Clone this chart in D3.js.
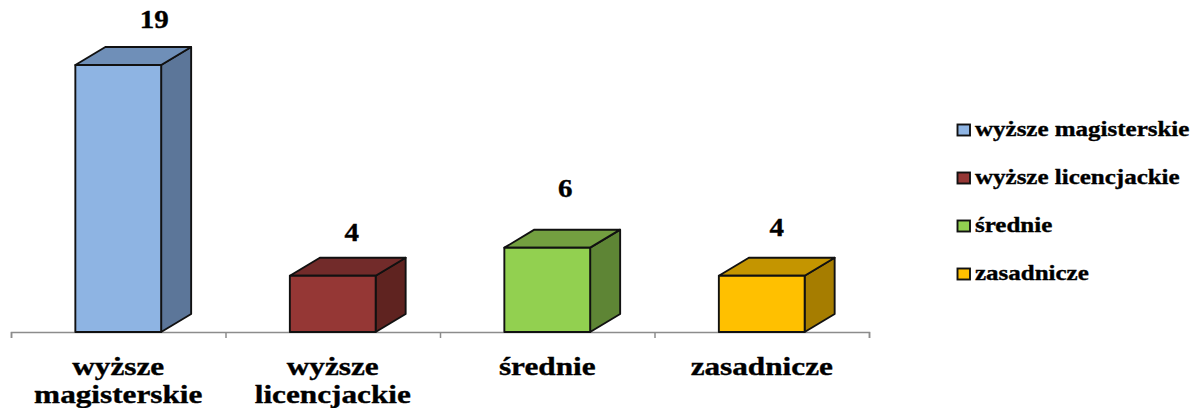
<!DOCTYPE html>
<meta charset="utf-8">
<head>
  <script src="https://cdn.jsdelivr.net/npm/d3@7"></script>
  <style>
    html, body { margin: 0; padding: 0; background: #fff; }
    svg { display: block; }
    text { font-family: "Liberation Serif", serif; font-weight: bold; fill: #000; stroke: #000; stroke-width: 0.35; }
  </style>
</head>
<body>
<script type="text/javascript">

var categories = ["wyższe magisterskie", "wyższe licencjackie", "średnie", "zasadnicze"];
var axisLines = [["wyższe", "magisterskie"], ["wyższe", "licencjackie"], ["średnie"], ["zasadnicze"]];
var values = [19, 4, 6, 4];
var frontColors = ["#8eb4e3", "#953735", "#92d050", "#ffc000"];
var topColors = ["#6f8fb8", "#722b2a", "#739f40", "#c49500"];
var sideColors = ["#5c7699", "#5f2320", "#5e8535", "#a67d00"];

// etykiety sa w oryginale ustawione recznie
var labelDx = [36, 19, 18, 15];
var labelDy = [37, 35, 51, 40];

var w = 1199;
var h = 408;
var baseY = 332;
var depthX = 30;
var depthY = 18;
var numStretch = 1.16;
var textStretch = 1.25;

var svg = d3.select("body").append("svg")
    .attr("width", w)
    .attr("height", h);

var x = d3.scaleBand()
    .domain(categories)
    .range([11, 869])
    .paddingInner(0.6)
    .paddingOuter(0.3);

var y = d3.scaleLinear()
    .domain([0, 19])
    .range([baseY, 65]);

// os z kreskami na granicach kategorii
var edges = d3.scaleLinear().domain([0, 4]).range([11, 869]);

var axis = svg.append("g")
    .attr("transform", "translate(0," + baseY + ")")
    .call(d3.axisBottom(edges).ticks(4).tickSize(6).tickFormat(""));
axis.selectAll("path, line").attr("stroke", "#8c8c8c").attr("stroke-width", 1.5);

var bars = svg.selectAll(".bar")
    .data(categories)
    .enter()
    .append("g")
    .attr("class", "bar");

var poly = function(pts) { return d3.line()(pts) + "Z"; };

bars.append("path")
    .attr("d", function(d, i) {
      var x1 = x(d) + x.bandwidth();
      return poly([[x1, y(values[i])], [x1 + depthX, y(values[i]) - depthY], [x1 + depthX, baseY - depthY], [x1, baseY]]);
    })
    .attr("fill", function(d, i) { return sideColors[i]; });

bars.append("path")
    .attr("d", function(d, i) {
      var x0 = x(d), x1 = x0 + x.bandwidth(), t = y(values[i]);
      return poly([[x0, t], [x0 + depthX, t - depthY], [x1 + depthX, t - depthY], [x1, t]]);
    })
    .attr("fill", function(d, i) { return topColors[i]; });

bars.append("rect")
    .attr("x", function(d) { return x(d); })
    .attr("y", function(d, i) { return y(values[i]); })
    .attr("width", x.bandwidth())
    .attr("height", function(d, i) { return baseY - y(values[i]); })
    .attr("fill", function(d, i) { return frontColors[i]; });

bars.selectAll("path, rect")
    .attr("stroke", "#111")
    .attr("stroke-width", 1.9)
    .attr("stroke-linejoin", "round");

// tekst rozciagniety w poziomie jak w oryginale
var wideText = function(sel, tx, ty, size, sx, anchor, str) {
  sel.append("text")
    .attr("transform", "translate(" + tx + "," + ty + ") scale(" + sx + ",1)")
    .attr("text-anchor", anchor)
    .attr("font-size", size)
    .text(str);
};

categories.forEach(function(c, i) {
  var cx = x(c) + x.bandwidth() / 2;
  wideText(svg, cx + labelDx[i], y(values[i]) - labelDy[i], 25, numStretch, "middle", values[i]);
  axisLines[i].forEach(function(line, j) {
    wideText(svg, cx, 375 + j * 28, 25, textStretch, "middle", line);
  });
});

// legenda
var legendY = d3.scalePoint().domain(categories).range([130, 274]);

categories.forEach(function(c, i) {
  svg.append("rect")
    .attr("x", 957.5)
    .attr("y", legendY(c) - 5.5)
    .attr("width", 12.5)
    .attr("height", 11)
    .attr("fill", frontColors[i])
    .attr("stroke", "#111")
    .attr("stroke-width", 1.9);
  wideText(svg, 975, legendY(c) + 6, 20, textStretch, "start", c);
});

</script>
</body>
